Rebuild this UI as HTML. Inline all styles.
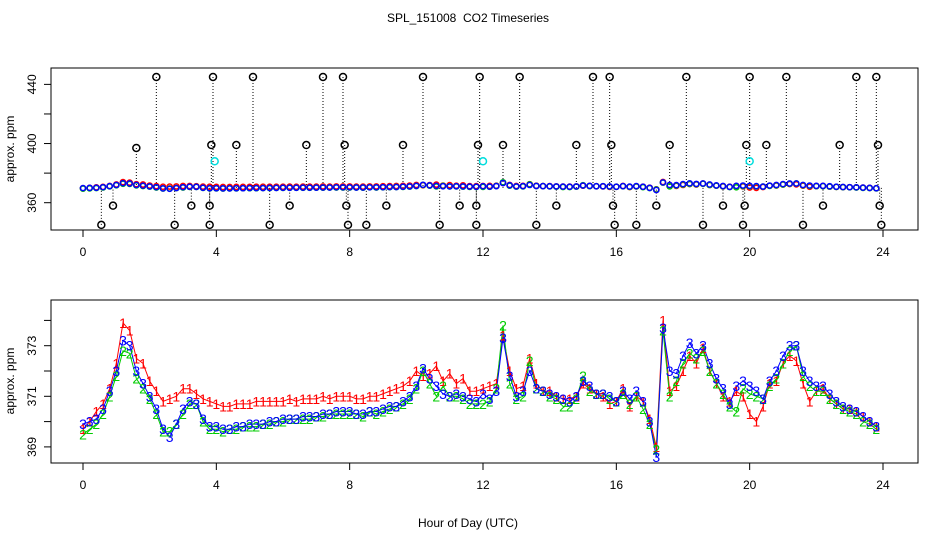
<!DOCTYPE html>
<html><head><meta charset="utf-8"><style>
body{margin:0;background:#fff}
svg{display:block;font-family:"Liberation Sans",Arial,sans-serif}
</style></head><body>
<svg id="c" width="936" height="540" viewBox="0 0 936 540">
<text x="468" y="22" text-anchor="middle" font-size="12">SPL_151008&#160; CO2 Timeseries</text>
<text x="468" y="527" text-anchor="middle" font-size="12">Hour of Day (UTC)</text>
<rect x="51" y="68" width="867" height="162" fill="none" stroke="#000"/>
<rect x="51" y="300" width="867" height="163" fill="none" stroke="#000"/>
<text transform="translate(14,149) rotate(-90)" text-anchor="middle" font-size="12">approx. ppm</text>
<text transform="translate(14,381) rotate(-90)" text-anchor="middle" font-size="12">approx. ppm</text>
<g id="topPanel"></g>
<g id="botPanel"></g>
</svg>
<script>
const hours=[];for(let i=0;i<120;i++)hours.push(+(i*0.2).toFixed(1));
const s1=[369.7,370.0,370.4,370.7,371.3,372.3,373.9,373.6,372.5,372.3,371.6,371.2,370.8,370.9,371.0,371.3,371.3,371.1,370.9,370.8,
370.7,370.6,370.6,370.7,370.7,370.7,370.8,370.8,370.8,370.8,370.8,370.9,370.8,370.9,370.9,370.9,371.0,370.9,371.0,371.0,
371.0,370.9,370.9,371.0,371.0,371.1,371.2,371.3,371.4,371.6,372.0,371.8,371.9,372.2,371.6,371.9,371.5,371.7,371.2,371.2,
371.3,371.4,371.5,373.4,372.0,371.3,371.4,372.5,371.5,371.2,371.2,371.0,370.9,370.9,371.0,371.5,371.3,371.1,371.0,370.7,
370.8,371.3,370.6,371.0,370.8,370.1,369.0,374.0,371.2,371.4,372.0,372.6,372.3,372.9,372.0,371.5,371.0,370.8,371.2,371.0,
370.3,370.0,370.6,371.5,371.6,372.3,372.6,372.4,371.5,370.8,371.2,371.3,370.9,370.7,370.5,370.5,370.4,370.2,370.0,369.8];
const s2=[369.5,369.7,369.9,370.3,371.0,371.8,372.8,372.7,371.7,371.3,370.9,370.3,369.6,369.6,369.9,370.3,370.7,370.7,370.0,369.7,
369.7,369.6,369.7,369.7,369.8,369.8,369.8,369.9,369.9,370.0,370.0,370.1,370.1,370.1,370.1,370.2,370.2,370.3,370.3,370.3,
370.3,370.3,370.2,370.4,370.3,370.4,370.5,370.6,370.7,370.9,371.3,372.0,371.5,371.0,371.4,371.0,371.0,370.9,370.7,370.7,
370.7,370.8,371.3,373.8,371.5,370.9,371.0,372.4,371.3,371.2,371.0,370.9,370.6,370.6,370.9,371.8,371.2,371.1,371.1,370.9,
370.8,371.1,370.7,371.0,370.5,369.9,368.9,373.6,371.0,371.6,372.3,372.7,372.5,372.8,372.0,371.5,371.1,370.6,370.4,371.3,
371.1,371.0,370.9,371.4,371.7,372.3,372.8,373.0,371.8,371.4,371.2,371.2,370.9,370.7,370.5,370.4,370.3,370.0,369.9,369.7];
const s3=[369.9,370.0,370.1,370.5,371.2,372.0,373.2,373.0,372.0,371.5,371.0,370.5,369.7,369.4,369.9,370.5,370.8,370.7,370.1,369.8,
369.8,369.7,369.7,369.8,369.8,369.9,369.9,369.9,370.0,370.0,370.1,370.1,370.1,370.2,370.2,370.2,370.3,370.3,370.4,370.4,
370.4,370.3,370.3,370.4,370.4,370.5,370.6,370.6,370.8,371.0,371.4,372.1,371.7,371.4,371.1,371.0,371.1,371.0,370.9,370.8,
371.1,370.9,371.2,373.3,371.8,371.0,371.2,372.0,371.3,371.2,371.1,371.0,370.9,370.8,371.0,371.6,371.4,371.1,371.1,371.0,
370.8,371.2,370.9,371.2,370.8,370.0,368.6,373.7,372.0,371.9,372.6,373.1,372.7,373.0,372.3,371.7,371.3,370.7,371.4,371.6,
371.4,371.2,370.9,371.6,372.0,372.6,373.0,373.0,372.0,371.6,371.4,371.4,371.1,370.8,370.6,370.5,370.4,370.2,370.0,369.8];
const outHours=[0.55,0.9,1.6,2.2,2.75,3.25,3.8,3.8,3.85,3.9,4.6,5.1,5.6,6.2,6.7,7.2,7.8,7.85,7.9,7.95,8.5,9.1,9.6,10.2,10.7,11.3,11.8,11.8,11.85,11.9,12.6,13.1,13.6,14.2,14.8,15.3,15.8,15.85,15.9,15.95,16.6,17.2,17.6,18.1,18.6,19.2,19.8,19.85,19.9,20.0,20.5,21.1,21.6,22.2,22.7,23.2,23.8,23.85,23.9,23.95];
const outVals=[345,358,397,445,345,358,345,358,399,445,399,445,345,358,399,445,445,399,358,345,345,358,399,445,345,358,358,345,399,445,399,445,345,358,399,445,445,399,358,345,345,358,399,445,345,358,345,358,399,445,399,445,345,358,399,445,445,399,358,345];
const cyanHours=[3.95,12.0,20.0];
const cyanVals=[388,388,388];
const xTicks=[0,4,8,12,16,20,24];
const topYTicks=[360,380,400,420,440];
const topYLabels=["360","","400","","440"];
const botYTicks=[369,370,371,372,373,374];
const botYLabels=["369","","371","","373",""];

const NS="http://www.w3.org/2000/svg";
const X=h=>83+h*33.333;
const YT=v=>202.7-(v-360)*1.479;
const YB=v=>345.7-(v-373)*25.3;
function mk(tag,attrs,parent){const e=document.createElementNS(NS,tag);for(const k in attrs)e.setAttribute(k,attrs[k]);parent.appendChild(e);return e;}
const topG=document.getElementById('topPanel'),botG=document.getElementById('botPanel');
const cols=['#ff0000','#00cc00','#0000ff'],series=[s1,s2,s3];

function axes(g,axisY,yTicks,yLabels,Yf,name){
  const xa=mk('line',{x1:X(0),x2:X(24),y1:axisY,y2:axisY,stroke:'#000'},g);
  
  
  xTicks.forEach(t=>{
    const l=mk('line',{x1:X(t),x2:X(t),y1:axisY,y2:axisY+7,stroke:'#000'},g);
    
    
    const tx=mk('text',{x:X(t),y:axisY+26,'text-anchor':'middle','font-size':12},g);tx.textContent=t;
    
    
  });
  const y0=Yf(yTicks[0]),y1=Yf(yTicks[yTicks.length-1]);
  const ya=mk('line',{x1:51,x2:51,y1:y0,y2:y1,stroke:'#000'},g);
  
  
  yTicks.forEach((t,i)=>{
    const l=mk('line',{x1:44,x2:51,y1:Yf(t),y2:Yf(t),stroke:'#000'},g);
    
    
    if(yLabels[i]){
      const tx=mk('text',{transform:`translate(36,${Yf(t)}) rotate(-90)`,'text-anchor':'middle','font-size':12},g);tx.textContent=yLabels[i];
      
      
    }
  });
}
axes(topG,230,topYTicks,topYLabels,YT,'top');
outHours.forEach((h,i)=>{
  const ln=mk('line',{x1:X(h),x2:X(h),y1:YT(outVals[i]),y2:YT(370),stroke:'#000','stroke-dasharray':'1,2'},topG);
  
  
});
series.forEach((s,k)=>{
  s.forEach((v,i)=>{
    const c=mk('circle',{cx:X(hours[i]),cy:YT(v),r:2.6,fill:'none',stroke:cols[k],'stroke-width':1.5},topG);
    
    
  });
});
outHours.forEach((h,i)=>{
  const c=mk('circle',{cx:X(h),cy:YT(outVals[i]),r:3.5,fill:'none',stroke:'#000','stroke-width':1.5},topG);
  
  
});
cyanHours.forEach((h,i)=>{
  const c=mk('circle',{cx:X(h),cy:YT(cyanVals[i]),r:3.5,fill:'none',stroke:'#00dddd','stroke-width':1.5},topG);
  
  
});
axes(botG,463,botYTicks,botYLabels,YB,'bottom');
series.forEach((s,k)=>{
  const p=mk('polyline',{points:s.map((v,i)=>X(hours[i])+','+YB(v)).join(' '),fill:'none',stroke:cols[k],'stroke-width':1},botG);
  
  
});
series.forEach((s,k)=>{
  s.forEach((v,i)=>{
    const t=mk('text',{x:X(hours[i]),y:YB(v)+5,'text-anchor':'middle','font-size':14,fill:cols[k]},botG);
    t.textContent=String(k+1);
    
    
  });
});
</script>
</body></html>
